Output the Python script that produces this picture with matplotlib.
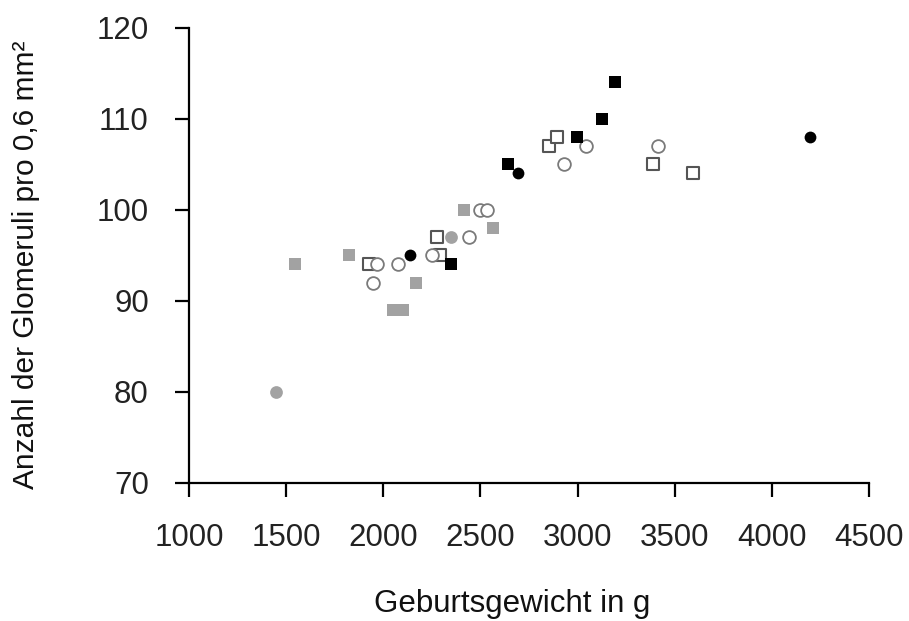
import matplotlib
matplotlib.use("Agg")
import matplotlib.pyplot as plt

plt.rcParams['font.family'] = ['Liberation Sans', 'DejaVu Sans']

# Geburtsgewicht (g) und Anzahl der Glomeruli, je Markergruppe
grau_quadrat_x = [1545, 1825, 2050, 2100, 2170, 2417, 2566]
grau_quadrat_y = [94, 95, 89, 89, 92, 100, 98]

grau_kreis_x = [1445, 2347]
grau_kreis_y = [80, 97]

schwarz_quadrat_x = [2347, 2644, 2995, 3124, 3193]
schwarz_quadrat_y = [94, 105, 108, 110, 114]

schwarz_kreis_x = [2135, 2695, 4196]
schwarz_kreis_y = [95, 104, 108]

offen_quadrat_x = [1925, 2275, 2290, 2855, 2896, 3387, 3596]
offen_quadrat_y = [94, 97, 95, 107, 108, 105, 104]

offen_kreis_x = [1945, 1965, 2077, 2250, 2443, 2500, 2532, 2932, 3043, 3416]
offen_kreis_y = [92, 94, 94, 95, 97, 100, 100, 105, 107, 107]

x_ticks = [1000, 1500, 2000, 2500, 3000, 3500, 4000, 4500]
y_ticks = [70, 80, 90, 100, 110, 120]

fig = plt.figure(figsize=(9.09, 6.21), dpi=100)
ax = fig.add_axes([0.208, 0.223, 0.748, 0.732])

ms = 84
ax.scatter(grau_quadrat_x, grau_quadrat_y, s=ms, marker='s', color='#a2a2a2', linewidths=0, zorder=3)
ax.scatter(grau_kreis_x, grau_kreis_y, s=ms, marker='o', color='#a2a2a2', linewidths=0, zorder=3)
ax.scatter(offen_quadrat_x, offen_quadrat_y, s=ms, marker='s', facecolors='white',
           edgecolors='#555555', linewidths=1.5, zorder=3)
ax.scatter(offen_kreis_x, offen_kreis_y, s=ms, marker='o', facecolors='white',
           edgecolors='#7a7a7a', linewidths=1.3, zorder=3)
ax.scatter(schwarz_quadrat_x, schwarz_quadrat_y, s=ms, marker='s', color='black', linewidths=0, zorder=4)
ax.scatter(schwarz_kreis_x, schwarz_kreis_y, s=72, marker='o', color='black', linewidths=0, zorder=4)

ax.set_xlim(1000, 4500)
ax.set_ylim(70, 120)
ax.set_xticks(x_ticks)
ax.set_yticks(y_ticks)
ax.spines['top'].set_visible(False)
ax.spines['right'].set_visible(False)
for s in ['left', 'bottom']:
    ax.spines[s].set_linewidth(1.6)
ax.tick_params(direction='out', length=10, width=1.6, pad=19, labelsize=22.5, colors='black')
for lab in ax.get_xticklabels() + ax.get_yticklabels():
    lab.set_color('#222222')

fig.text(0.564, 0.014, "Geburtsgewicht in g", ha='center', va='baseline',
         fontsize=22.5, color='#111111')
fig.text(0.029, 0.573, "Anzahl der Glomeruli pro 0,6 mm²", ha='center', va='center',
         rotation=90, fontsize=21.5, color='#111111')

fig.savefig("out.png", dpi=100)
